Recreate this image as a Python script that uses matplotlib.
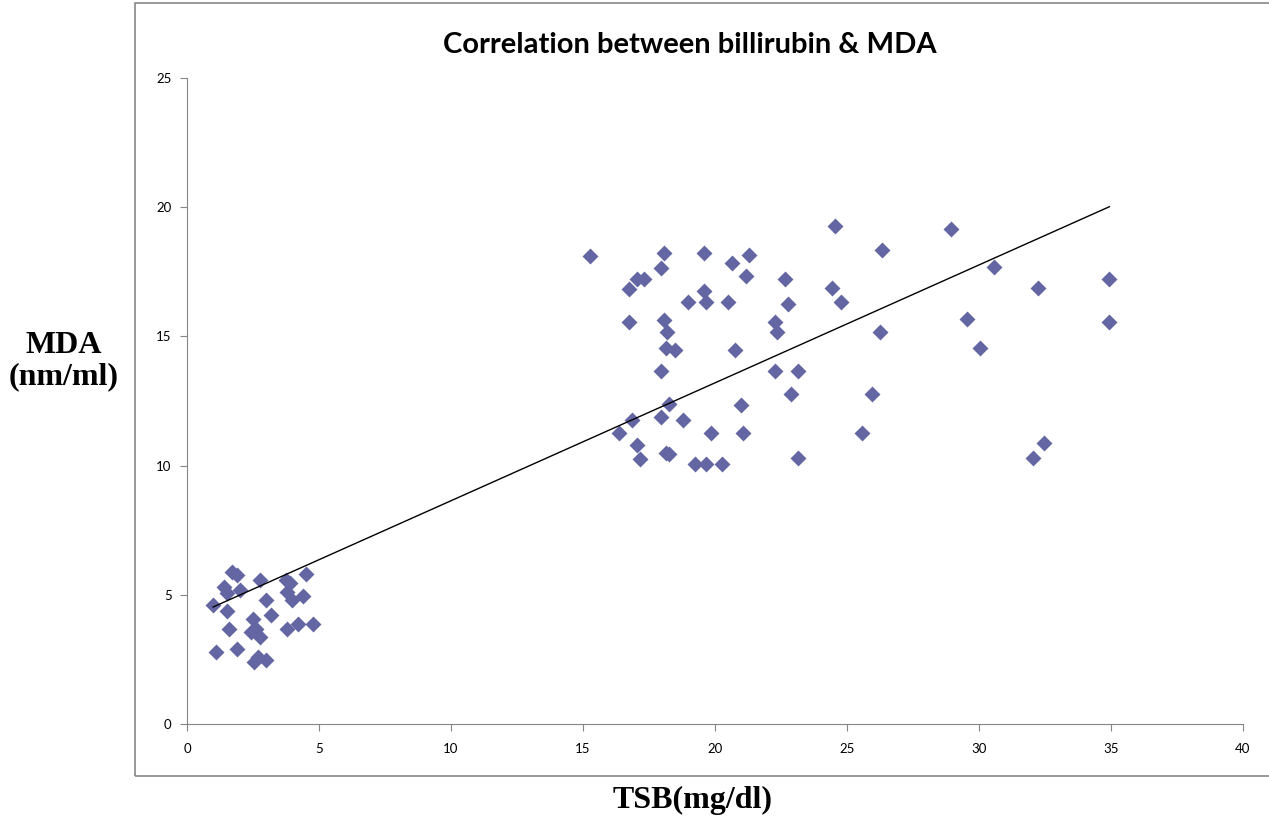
import numpy as np
import matplotlib.pyplot as plt
from matplotlib.patches import Rectangle

# total serum bilirubin (mg/dl) vs malondialdehyde (nm/ml)
tsb_low = [1.69, 1.90, 2.76, 3.74, 4.50, 1.41, 1.50, 2.00, 3.89, 3.79,
           3.99, 4.39, 2.98, 0.99, 1.50, 2.50, 3.20, 1.60, 2.44, 2.61,
           2.76, 3.79, 4.20, 4.77, 1.10, 1.90, 2.53, 2.69, 2.98]
mda_low = [5.87, 5.78, 5.59, 5.59, 5.82, 5.32, 5.06, 5.20, 5.44, 5.10,
           4.78, 4.97, 4.78, 4.59, 4.39, 4.07, 4.20, 3.69, 3.56, 3.66,
           3.37, 3.69, 3.88, 3.88, 2.79, 2.89, 2.40, 2.59, 2.49]

tsb_high = [15.26, 18.07, 19.57, 17.97, 20.66, 21.27, 21.17, 17.05, 17.30, 16.76,
            19.57, 18.96, 19.67, 20.48, 16.76, 18.07, 18.17, 18.14, 18.50, 20.77,
            17.97, 18.27, 20.97, 16.86, 17.97, 18.78, 16.38, 19.86, 21.07, 17.06,
            17.16, 18.14, 18.27, 19.26, 19.67, 20.26,
            24.54, 28.95, 26.34, 22.66, 24.44, 24.76, 22.77, 30.55, 32.25, 34.94,
            34.94, 29.56, 26.26, 30.05, 22.28, 22.36, 22.28, 23.16, 22.86, 25.95,
            25.57, 23.16, 32.45, 32.04]
mda_high = [18.10, 18.24, 18.24, 17.66, 17.85, 18.14, 17.35, 17.24, 17.24, 16.85,
            16.76, 16.35, 16.35, 16.35, 15.55, 15.65, 15.16, 14.57, 14.46, 14.46,
            13.65, 12.39, 12.36, 11.77, 11.87, 11.77, 11.28, 11.28, 11.28, 10.78,
            10.25, 10.50, 10.46, 10.07, 10.07, 10.07,
            19.26, 19.17, 18.36, 17.24, 16.86, 16.35, 16.26, 17.67, 16.86, 17.24,
            15.57, 15.68, 15.16, 14.57, 15.57, 15.16, 13.67, 13.67, 12.77, 12.77,
            11.28, 10.28, 10.86, 10.28]

tsb = np.array(tsb_low + tsb_high)
mda = np.array(mda_low + mda_high)

fig = plt.figure(figsize=(12.69, 8.19), dpi=100)

# chart frame
fig.patches.append(Rectangle((135/1269, 1-776/819), 1.2, 773/819,
                             transform=fig.transFigure, fill=False,
                             edgecolor='#888888', lw=1.2))

ax = fig.add_axes([187/1269, 1-724/819, 1056/1269, 646/819])
ax.scatter(tsb, mda, marker='D', s=66, color='#6466a3', linewidths=0, zorder=3)

# linear trend line
slope, icept = np.polyfit(tsb, mda, 1)
xx = np.array([tsb.min(), tsb.max()])
ax.plot(xx, slope*xx + icept, color='black', lw=1.0, zorder=4)

ax.set_xlim(0, 40)
ax.set_ylim(0, 25)
ax.set_xticks(np.arange(0, 41, 5))
ax.set_yticks(np.arange(0, 26, 5))
for s in ['top', 'right']:
    ax.spines[s].set_visible(False)
for s in ['left', 'bottom']:
    ax.spines[s].set_color('#868686')
ax.tick_params(axis='x', direction='out', length=5, color='#868686', pad=9,
               labelsize=9.5)
ax.tick_params(axis='y', direction='out', length=5, color='#868686', pad=6,
               labelsize=9.5)
for lab in ax.get_xticklabels() + ax.get_yticklabels():
    lab.set_family('Lato')

fig.text(690/1269, 1-45/819, 'Correlation between billirubin & MDA',
         ha='center', va='center', fontsize=21, fontweight='bold', family='Lato')
fig.text(64/1269, 1-361/819, 'MDA\n(nm/ml)', ha='center', va='center',
         fontsize=23, fontweight='bold', family='Liberation Serif',
         linespacing=1.1)
fig.text(693/1269, 1-800/819, 'TSB(mg/dl)', ha='center', va='center',
         fontsize=23, fontweight='bold', family='Liberation Serif')

fig.savefig('out.png', dpi=100)
